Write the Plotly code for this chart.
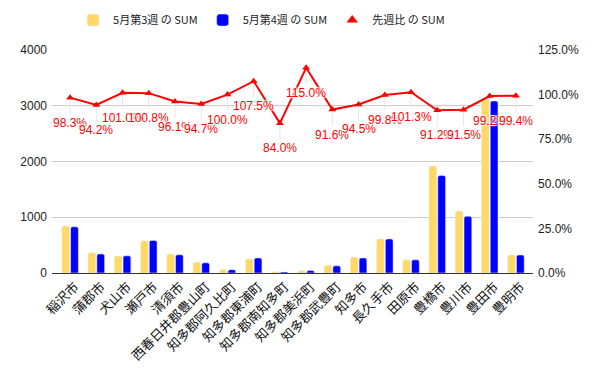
import plotly.graph_objects as go

categories = ["稲沢市", "蒲郡市", "犬山市", "瀬戸市", "清須市", "西春日井郡豊山町",
              "知多郡阿久比町", "知多郡東浦町", "知多郡南知多町", "知多郡美浜町",
              "知多郡武豊町", "知多市", "長久手市", "田原市", "豊橋市", "豊川市",
              "豊田市", "豊明市"]
week3 = [843, 364, 305, 580, 340, 192, 60, 251, 24, 40, 140, 287, 612, 233, 1919, 1112, 3110, 325]
week4 = [829, 343, 308, 585, 327, 182, 60, 270, 20, 46, 128, 271, 611, 236, 1750, 1017, 3085, 323]
ratio = [0.983, 0.942, 1.010, 1.008, 0.961, 0.947, 1.000, 1.075, 0.840, 1.150,
         0.916, 0.945, 0.998, 1.013, 0.912, 0.915, 0.992, 0.994]

FONT = "Noto Sans CJK JP, Arial, sans-serif"
NUMFONT = "Arial, Liberation Sans, sans-serif"

fig = go.Figure()
fig.add_trace(go.Bar(x=categories, y=week3, name="5月第3週 の SUM",
                     marker=dict(color="#ffd966", cornerradius=2)))
fig.add_trace(go.Bar(x=categories, y=week4, name="5月第4週 の SUM",
                     marker=dict(color="#0000ff", cornerradius=2)))
fig.add_trace(go.Scatter(x=categories, y=ratio, yaxis="y2", mode="lines+markers",
                         line=dict(color="#ff0000", width=2),
                         marker=dict(symbol="triangle-up", size=7, color="#ff0000"),
                         error_y=dict(type="data", symmetric=False,
                                      array=[0] * len(ratio),
                                      arrayminus=[0.09] * len(ratio),
                                      color="#e6e6e6", thickness=1, width=0),
                         showlegend=False, name="先週比 の SUM"))
fig.add_trace(go.Scatter(x=[None], y=[None], yaxis="y2", mode="markers",
                         marker=dict(symbol="triangle-up", size=10, color="#ff0000"),
                         name="先週比 の SUM"))

halo = "1px 1px 1px white, -1px -1px 1px white, 1px -1px 1px white, -1px 1px 1px white"
for c, r in zip(categories, ratio):
    fig.add_annotation(x=c, y=r, yref="y2", text=f"{r*100:.1f}%", showarrow=False,
                       yshift=-25, font=dict(color="#ff0000", size=12,
                                             family=NUMFONT, shadow=halo))

fig.update_layout(
    width=600, height=371,
    margin=dict(l=52, r=67, t=50, b=98, autoexpand=False),
    paper_bgcolor="white", plot_bgcolor="white",
    barmode="group", bargap=0.33, bargroupgap=0.12,
    font=dict(family=FONT, size=12, color="#222222"),
    legend=dict(orientation="h", x=0.436, xanchor="center", xref="container",
                y=0.985, yanchor="top", yref="container",
                font=dict(size=11, family=FONT, color="#222222"),
                itemwidth=30),
    xaxis=dict(tickangle=-45, showgrid=False, showline=True, linecolor="#333333",
               tickfont=dict(size=13, family=FONT, color="#111111"), ticks="",
               ticklabelshift=5,
               range=[-0.69, len(categories) - 0.35], automargin=False),
    yaxis=dict(range=[0, 4000], dtick=1000, showgrid=True, gridcolor="#cccccc",
               zeroline=False, ticks="", tickfont=dict(size=12, family=NUMFONT, color="#222222"),
               ticklabelstandoff=4, automargin=False),
    yaxis2=dict(range=[0, 1.25], dtick=0.25, tickformat=".1%", overlaying="y",
                side="right", showgrid=False, zeroline=False, ticks="",
                tickfont=dict(size=12, family=NUMFONT, color="#222222"),
                ticklabelstandoff=4, automargin=False),
)

fig.write_html("out.html", post_script="document.body.style.margin='0';",
               config={"displayModeBar": False})
